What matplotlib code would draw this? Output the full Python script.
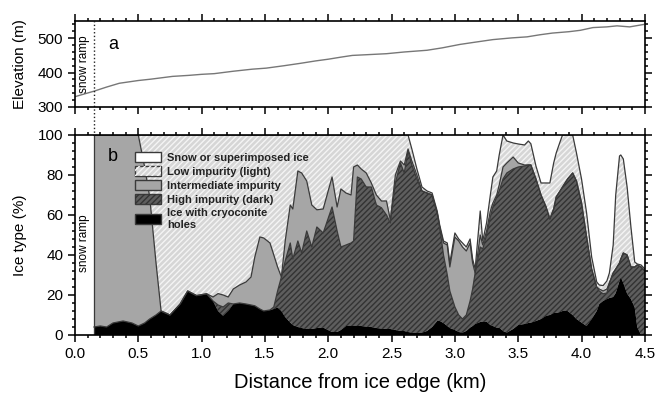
import numpy as np
import matplotlib
matplotlib.use('Agg')
import matplotlib.pyplot as plt
from matplotlib.patches import Patch
from matplotlib.ticker import MultipleLocator

plt.rcParams['font.family'] = ['Liberation Sans', 'DejaVu Sans']
plt.rcParams['hatch.linewidth'] = 1.0

# elevation profile (panel a)
elev_km = [0.0, 0.15, 0.25, 0.35, 0.5, 0.6, 0.77, 0.9, 1.0, 1.1, 1.25, 1.4, 1.51,
           1.65, 1.78, 1.9, 2.0, 2.1, 2.19, 2.3, 2.46, 2.6, 2.78, 2.9, 3.04, 3.15,
           3.3, 3.45, 3.57, 3.67, 3.77, 3.9, 3.99, 4.09, 4.2, 4.28, 4.38, 4.49]
elev_m = [330, 346, 358, 369, 377, 381, 389, 392, 395, 397, 404, 410, 413,
          420, 427, 434, 439, 445, 450, 452, 455, 460, 465, 472, 482, 488,
          496, 501, 504, 510, 515, 519, 523, 531, 533, 536, 533, 540]

# ice type classes (panel b), cumulative tops in %
dist_km = [0.15, 0.20, 0.25, 0.30, 0.38, 0.45, 0.50, 0.55, 0.59, 0.64, 0.68, 0.75,
           0.83, 0.89, 0.96, 1.04, 1.09, 1.13, 1.17, 1.21, 1.25, 1.30, 1.35, 1.39,
           1.42, 1.46, 1.49, 1.54, 1.57, 1.60, 1.63, 1.66, 1.70, 1.72, 1.76, 1.79,
           1.83, 1.87, 1.91, 1.96, 2.03, 2.07, 2.10, 2.14, 2.18, 2.20, 2.23, 2.26,
           2.30, 2.34, 2.38, 2.42, 2.46, 2.49, 2.53, 2.57, 2.60, 2.63, 2.66, 2.70,
           2.74, 2.78, 2.82, 2.86, 2.88, 2.91, 2.94, 2.96, 3.00, 3.03, 3.06, 3.09,
           3.12, 3.14, 3.16, 3.20, 3.22, 3.25, 3.28, 3.30, 3.33, 3.35, 3.38, 3.41,
           3.46, 3.50, 3.55, 3.58, 3.60, 3.64, 3.68, 3.72, 3.75, 3.78, 3.80, 3.83,
           3.85, 3.89, 3.93, 3.96, 4.00, 4.04, 4.08, 4.12, 4.14, 4.17, 4.20, 4.22,
           4.25, 4.27, 4.30, 4.31, 4.33, 4.36, 4.39, 4.42, 4.44, 4.47, 4.50]
top_cryoconite = [4, 4.5, 4, 6, 7, 6, 4.5, 6, 8, 10, 12, 10,
                  15.5, 22, 19.7, 20.6, 17, 12, 9.6, 12, 15.5, 16, 15.5, 15,
                  14.6, 13, 12, 12.5, 13, 13.8, 12, 9, 6.2, 5, 4, 3.5,
                  3, 3, 3.5, 3.7, 1.5, 1.5, 2.5, 4.5, 4.5, 4.5, 4.5, 4.5,
                  4.2, 4, 3.5, 3.2, 3, 3, 2.5, 2, 2, 1.5, 1.2, 1.2,
                  1.2, 2, 4, 7, 7, 6, 4.5, 3.5, 2.5, 1.5, 1.2, 2,
                  3.7, 4.5, 5.5, 6.5, 6.7, 6.7, 5, 4.5, 3.7, 3.7, 2, 1.2,
                  3, 5, 5.5, 6, 6.2, 7, 8, 9.6, 10, 11, 11, 11.5,
                  12, 12, 10, 8, 6.2, 4.5, 8, 12, 15.5, 17, 18, 18.5,
                  19, 21, 27, 29, 26, 20.7, 18, 13.8, 4, 0, 0]
top_high = [4, 4.5, 4, 6, 7, 6, 4.5, 6, 8, 10, 12, 10,
            15.5, 22, 19.7, 20.6, 17, 15, 14, 16, 15.5, 16, 15.5, 15,
            14.6, 13, 12, 12.5, 14, 22, 29, 37, 46, 38, 47, 41,
            52, 44, 54, 51, 64, 52, 44, 45, 46, 47, 79, 78,
            74, 74, 65, 63.6, 60, 56, 76, 86, 81, 92, 85, 78,
            72, 71, 70, 61, 54, 40, 30, 22, 14, 10, 8, 10,
            17, 23, 31, 44, 43, 50, 59, 64, 69, 72, 78, 81,
            83, 84, 84.5, 85, 85, 78, 70, 64, 58, 63, 69, 72,
            74, 78, 81, 77, 66, 49, 33, 24, 22, 20.6, 21, 26,
            31, 33, 36, 38, 41, 40, 34, 34, 35, 34, 32]
top_intermediate = [100, 100, 100, 100, 100, 100, 100, 84, 69, 36, 12, 10,
                    15.5, 22, 19.7, 20.6, 19, 20.7, 20, 19, 23, 25, 26.5, 29,
                    39, 49, 48.5, 46, 40, 34, 29, 47, 65, 63, 82, 81,
                    77, 65, 62.6, 63, 79, 64, 73, 71, 70, 84, 85, 83,
                    81, 76, 70, 67, 67, 57.6, 80, 87, 85, 93, 87, 80,
                    72, 71, 70, 61, 54, 46, 45, 34, 49, 47, 44, 42,
                    46, 36, 31, 50, 45, 52, 62, 66, 70, 75, 84, 86,
                    89, 86, 85, 85, 85, 78, 70, 64, 58, 63, 69, 72,
                    74, 78, 81, 77, 66, 49, 33, 24, 23, 22, 23, 26,
                    31, 33, 36, 38, 41, 40, 34, 34, 35, 34, 32]
top_low = [100, 100, 100, 100, 100, 100, 100, 100, 100, 100, 100, 100,
           100, 100, 100, 100, 100, 100, 100, 100, 100, 100, 100, 100,
           100, 100, 100, 100, 100, 100, 100, 100, 100, 100, 100, 100,
           100, 100, 100, 100, 100, 100, 100, 100, 100, 100, 100, 100,
           100, 100, 100, 100, 100, 100, 100, 100, 100, 100, 93, 83,
           74, 72, 71, 62, 55, 47, 46, 36, 51, 48, 46, 44,
           48, 38, 33, 62, 47, 56, 70, 79, 82, 90, 100, 97,
           96, 95.5, 95, 97, 95.6, 84.5, 76, 76, 76, 86, 91, 96.5,
           100, 100, 100, 91, 78, 61, 39, 26.5, 25, 24.7, 27, 31,
           45, 70, 89.5, 90, 88, 74, 54, 36.5, 35.5, 35, 33]

labels = ['Snow or superimposed ice', 'Low impurity (light)', 'Intermediate impurity',
          'High impurity (dark)', 'Ice with cryoconite\nholes']

x = np.array(dist_km)
b1 = np.array(top_cryoconite)
b2 = np.array(top_high)
b3 = np.array(top_intermediate)
b4 = np.array(top_low)

fig = plt.figure(figsize=(6.56, 3.97), dpi=100)
ax1 = fig.add_axes([0.1143, 0.7305, 0.8687, 0.2165])
ax2 = fig.add_axes([0.1143, 0.1562, 0.8687, 0.5038])

# panel a
ax1.plot(elev_km, elev_m, color='#777777', lw=1.0)
ax1.set_xlim(0, 4.5)
ax1.set_ylim(300, 550)
ax1.set_yticks([300, 400, 500])
ax1.yaxis.set_minor_locator(MultipleLocator(20))
ax1.set_ylabel('Elevation (m)', fontsize=11)
ax1.set_xticklabels([])
ax1.axvline(0.15, ymin=-0.34, ymax=1, color='#222222', ls=':', lw=1.0, clip_on=False)
ax1.text(0.075, 425, 'snow ramp', rotation=90, ha='center', va='center', fontsize=8.5)
ax1.text(0.26, 482, 'a', fontsize=13, ha='left', va='center')

# panel b
edge = '#3a3a3a'
c_snow, c_low, c_mid, c_high, c_cryo = 'white', '#d6d6d6', '#a6a6a6', '#5e5e5e', 'black'
h_low, h_high = '#f4f4f4', '#333333'

ax2.fill_between(x, b4, 100, facecolor=c_snow, lw=0)
ax2.fill_between(x, b3, b4, facecolor=c_low, lw=0)
ax2.fill_between(x, b3, b4, facecolor='none', edgecolor=h_low, hatch='//////', lw=0)
ax2.fill_between(x, b2, b3, facecolor=c_mid, lw=0)
ax2.fill_between(x, b1, b2, facecolor=c_high, lw=0)
ax2.fill_between(x, b1, b2, facecolor='none', edgecolor=h_high, hatch='//////', lw=0)
ax2.fill_between(x, 0, b1, facecolor=c_cryo, lw=0)
for b in (b2, b3, b4):
    ax2.plot(x, b, color=edge, lw=0.9)
ax2.plot([x[0], x[0]], [0, 100], color=edge, lw=0.9)

ax2.set_xlim(0, 4.5)
ax2.set_ylim(0, 100)
ax2.set_yticks(np.arange(0, 101, 20))
ax2.yaxis.set_minor_locator(MultipleLocator(4))
ax2.set_ylabel('Ice type (%)', fontsize=11)
ax2.set_xlabel('Distance from ice edge (km)', fontsize=14.5, labelpad=9)
ax2.text(0.075, 46, 'snow ramp', rotation=90, ha='center', va='center', fontsize=8.5)
ax2.text(0.26, 89, 'b', fontsize=13, ha='left', va='center')

handles = [
    Patch(facecolor=c_snow, edgecolor=edge),
    (Patch(facecolor=c_low, edgecolor=edge), Patch(facecolor='none', edgecolor=h_low, hatch='//////', lw=0)),
    Patch(facecolor=c_mid, edgecolor=edge),
    (Patch(facecolor=c_high, edgecolor=edge), Patch(facecolor='none', edgecolor=h_high, hatch='//////', lw=0)),
    Patch(facecolor=c_cryo, edgecolor=edge),
]
leg = ax2.legend(handles, labels, loc='upper left', bbox_to_anchor=(0.105, 0.915),
                 frameon=False, prop={'weight': 'bold', 'size': 8},
                 handlelength=2.4, handleheight=1.0, handletextpad=0.5,
                 labelspacing=0.3, borderpad=0, borderaxespad=0)
for t in leg.get_texts():
    t.set_color('#222222')

for ax in (ax1, ax2):
    ax.xaxis.set_major_locator(MultipleLocator(0.5))
    ax.xaxis.set_minor_locator(MultipleLocator(0.1))
    ax.tick_params(which='both', direction='out', top=True, right=True, labelsize=11, width=1.1)
    ax.tick_params(which='major', length=5)
    ax.tick_params(which='minor', length=2.5)
    for s in ax.spines.values():
        s.set_linewidth(1.2)
ax2.xaxis.set_major_formatter(matplotlib.ticker.FormatStrFormatter('%.1f'))
ax1.yaxis.set_label_coords(-0.085, 0.5)
ax2.yaxis.set_label_coords(-0.085, 0.5)

fig.savefig('out.png', dpi=100)
